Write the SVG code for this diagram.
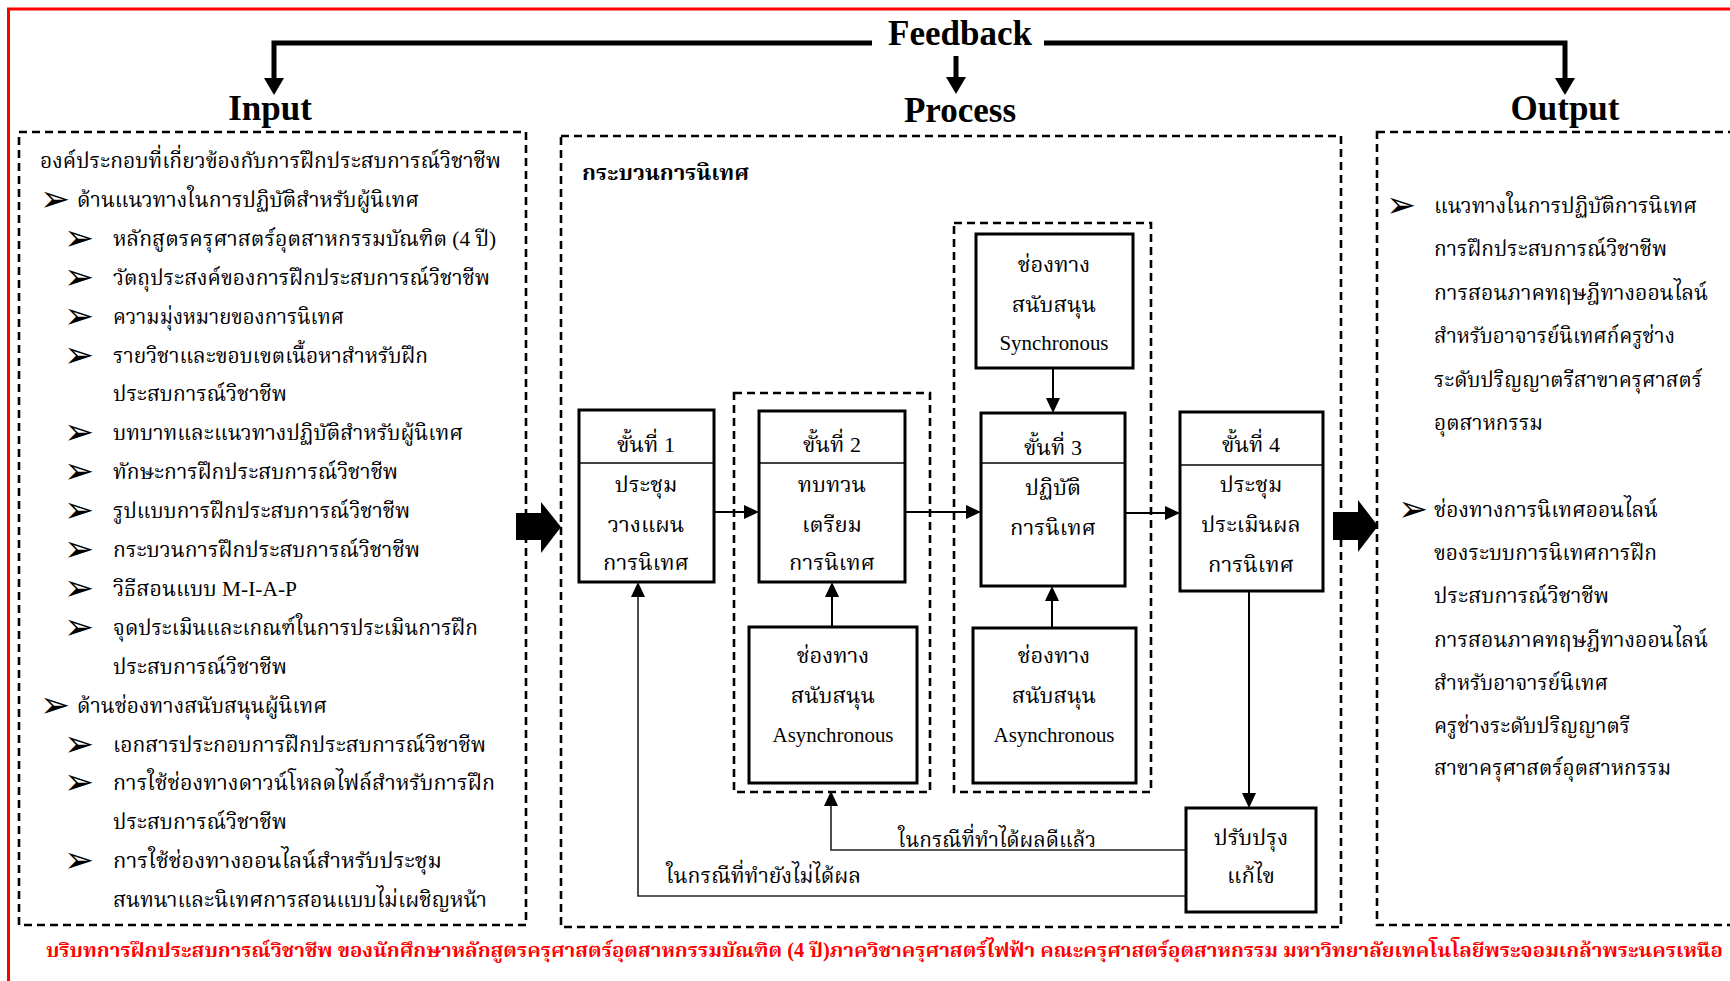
<svg xmlns="http://www.w3.org/2000/svg" width="1730" height="981" viewBox="0 0 1730 981">
<style>
.th{font-family:"Liberation Serif","Noto Serif Thai","Noto Sans Thai",serif;font-size:22px;fill:#000}
.c{text-anchor:middle}
.hd{font-family:"Liberation Serif",serif;font-size:35px;font-weight:bold;fill:#000;text-anchor:middle}
.en{font-family:"Liberation Serif",serif;font-size:20px;fill:#000;text-anchor:middle}
.bl{font-family:"DejaVu Sans",sans-serif;font-size:36px;fill:#000}
.box{fill:#fff;stroke:#000;stroke-width:3}
.div{stroke:#000;stroke-width:1.5}
.dash{fill:none;stroke:#000;stroke-width:2.6;stroke-dasharray:8 5}
.ln{fill:none;stroke:#000;stroke-width:2}
.lp{fill:none;stroke:#222;stroke-width:1.6}
.fb{fill:none;stroke:#000;stroke-width:5}
.foot{font-family:"Liberation Serif","Noto Serif Thai","Noto Sans Thai",serif;font-size:20px;font-weight:bold;fill:#ff0000}
</style>
<defs>
<marker id="ah" markerUnits="userSpaceOnUse" markerWidth="15" markerHeight="14" refX="0" refY="7" orient="auto" overflow="visible">
<path d="M0,0 L15,7 L0,14 Z" fill="#000"/>
</marker>
<marker id="ahb" markerUnits="userSpaceOnUse" markerWidth="17" markerHeight="20" refX="0" refY="10" orient="auto" overflow="visible">
<path d="M0,0 L17,10 L0,20 Z" fill="#000"/>
</marker>
</defs>
<rect width="1730" height="981" fill="#fff"/>
<rect x="8.5" y="9" width="1800" height="1100" fill="none" stroke="#ff0000" stroke-width="3"/>

<g id="connectors">
<path class="fb" d="M872,43 H274 V78" marker-end="url(#ahb)"/>
<path class="fb" d="M1044,43 H1565 V78" marker-end="url(#ahb)"/>
<path class="fb" d="M956,56 V77" marker-end="url(#ahb)"/>
<polygon points="516,513 541,513 541,502 561,527 541,553 541,540 516,540" fill="#000"/>
<polygon points="1333,512 1358,512 1358,500 1378,526 1358,552 1358,540 1333,540" fill="#000"/>
<path class="ln" d="M714,512 H744" marker-end="url(#ah)"/>
<path class="ln" d="M905,512 H966" marker-end="url(#ah)"/>
<path class="ln" d="M1125,513 H1165" marker-end="url(#ah)"/>
<path class="ln" d="M1053,368 V398" marker-end="url(#ah)"/>
<path class="ln" d="M832,627 V597" marker-end="url(#ah)"/>
<path class="ln" d="M1052,628 V601" marker-end="url(#ah)"/>
<path class="ln" d="M1249,591 V793" marker-end="url(#ah)"/>
<path class="lp" d="M1186,850 H831 V806" marker-end="url(#ah)"/>
<path class="lp" d="M1186,896 H638 V597" marker-end="url(#ah)"/>
<text class="th" x="898" y="847" textLength="198" lengthAdjust="spacingAndGlyphs">ในกรณีที่ทำได้ผลดีแล้ว</text>
<text class="th" x="666" y="883" textLength="195" lengthAdjust="spacingAndGlyphs">ในกรณีที่ทำยังไม่ได้ผล</text>
</g>

<g id="feedback">
<text class="hd" x="960" y="45" textLength="144" lengthAdjust="spacingAndGlyphs">Feedback</text>
</g>

<g id="input">
<text class="hd" x="270" y="120">Input</text>
<rect class="dash" x="19" y="132" width="507" height="793"/>
<text class="th" x="40" y="168" textLength="461" lengthAdjust="spacingAndGlyphs">องค์ประกอบที่เกี่ยวข้องกับการฝึกประสบการณ์วิชาชีพ</text>
<text class="bl" x="40" y="211">➢</text>
<text class="th" x="77" y="206.9" textLength="342" lengthAdjust="spacingAndGlyphs">ด้านแนวทางในการปฏิบัติสำหรับผู้นิเทศ</text>
<text class="bl" x="64" y="250">➢</text>
<text class="th" x="113" y="245.8" textLength="383" lengthAdjust="spacingAndGlyphs">หลักสูตรครุศาสตร์อุตสาหกรรมบัณฑิต (4 ปี)</text>
<text class="bl" x="64" y="289">➢</text>
<text class="th" x="113" y="284.7" textLength="377" lengthAdjust="spacingAndGlyphs">วัตถุประสงค์ของการฝึกประสบการณ์วิชาชีพ</text>
<text class="bl" x="64" y="328">➢</text>
<text class="th" x="113" y="323.6" textLength="231" lengthAdjust="spacingAndGlyphs">ความมุ่งหมายของการนิเทศ</text>
<text class="bl" x="64" y="366.5">➢</text>
<text class="th" x="113" y="362.5" textLength="315" lengthAdjust="spacingAndGlyphs">รายวิชาและขอบเขตเนื้อหาสำหรับฝึก</text>
<text class="th" x="113" y="401.4" textLength="174" lengthAdjust="spacingAndGlyphs">ประสบการณ์วิชาชีพ</text>
<text class="bl" x="64" y="444.3">➢</text>
<text class="th" x="113" y="440.3" textLength="350" lengthAdjust="spacingAndGlyphs">บทบาทและแนวทางปฏิบัติสำหรับผู้นิเทศ</text>
<text class="bl" x="64" y="483.2">➢</text>
<text class="th" x="113" y="479.2" textLength="285" lengthAdjust="spacingAndGlyphs">ทักษะการฝึกประสบการณ์วิชาชีพ</text>
<text class="bl" x="64" y="522.1">➢</text>
<text class="th" x="113" y="518.1" textLength="297" lengthAdjust="spacingAndGlyphs">รูปแบบการฝึกประสบการณ์วิชาชีพ</text>
<text class="bl" x="64" y="561">➢</text>
<text class="th" x="113" y="557" textLength="307" lengthAdjust="spacingAndGlyphs">กระบวนการฝึกประสบการณ์วิชาชีพ</text>
<text class="bl" x="64" y="599.9">➢</text>
<text class="th" x="113" y="595.9" textLength="184" lengthAdjust="spacingAndGlyphs">วิธีสอนแบบ M-I-A-P</text>
<text class="bl" x="64" y="638.8">➢</text>
<text class="th" x="113" y="634.8" textLength="365" lengthAdjust="spacingAndGlyphs">จุดประเมินและเกณฑ์ในการประเมินการฝึก</text>
<text class="th" x="113" y="673.7" textLength="174" lengthAdjust="spacingAndGlyphs">ประสบการณ์วิชาชีพ</text>
<text class="bl" x="40" y="716.6">➢</text>
<text class="th" x="77" y="712.6" textLength="250" lengthAdjust="spacingAndGlyphs">ด้านช่องทางสนับสนุนผู้นิเทศ</text>
<text class="bl" x="64" y="755.5">➢</text>
<text class="th" x="113" y="751.5" textLength="373" lengthAdjust="spacingAndGlyphs">เอกสารประกอบการฝึกประสบการณ์วิชาชีพ</text>
<text class="bl" x="64" y="794.4">➢</text>
<text class="th" x="113" y="790.4" textLength="382" lengthAdjust="spacingAndGlyphs">การใช้ช่องทางดาวน์โหลดไฟล์สำหรับการฝึก</text>
<text class="th" x="113" y="829.3" textLength="174" lengthAdjust="spacingAndGlyphs">ประสบการณ์วิชาชีพ</text>
<text class="bl" x="64" y="872.2">➢</text>
<text class="th" x="113" y="868.2" textLength="329" lengthAdjust="spacingAndGlyphs">การใช้ช่องทางออนไลน์สำหรับประชุม</text>
<text class="th" x="113" y="907.1" textLength="374" lengthAdjust="spacingAndGlyphs">สนทนาและนิเทศการสอนแบบไม่เผชิญหน้า</text>
</g>

<g id="process">
<text class="hd" x="960" y="122">Process</text>
<rect class="dash" x="561" y="136" width="780" height="791"/>
<text class="th" x="582" y="180" font-weight="bold" textLength="167" lengthAdjust="spacingAndGlyphs">กระบวนการนิเทศ</text>
</g>

<g id="group-step2">
<rect class="dash" x="734" y="393" width="196" height="399"/>
</g>
<g id="group-step3">
<rect class="dash" x="954" y="223" width="197" height="569"/>
</g>

<g id="step1">
<rect class="box" x="579" y="410" width="135" height="172"/>
<line class="div" x1="579" y1="463" x2="714" y2="463"/>
<text class="th c" x="646" y="452">ขั้นที่ 1</text>
<text class="th c" x="646" y="492">ประชุม</text>
<text class="th c" x="646" y="532">วางแผน</text>
<text class="th c" x="646" y="570">การนิเทศ</text>
</g>
<g id="step2">
<rect class="box" x="759" y="411" width="146" height="171"/>
<line class="div" x1="759" y1="463" x2="905" y2="463"/>
<text class="th c" x="832" y="452">ขั้นที่ 2</text>
<text class="th c" x="832" y="492">ทบทวน</text>
<text class="th c" x="832" y="532">เตรียม</text>
<text class="th c" x="832" y="570">การนิเทศ</text>
</g>
<g id="step3">
<rect class="box" x="981" y="413" width="144" height="173"/>
<line class="div" x1="981" y1="463" x2="1125" y2="463"/>
<text class="th c" x="1053" y="455">ขั้นที่ 3</text>
<text class="th c" x="1053" y="495">ปฏิบัติ</text>
<text class="th c" x="1053" y="535">การนิเทศ</text>
</g>
<g id="step4">
<rect class="box" x="1180" y="412" width="143" height="179"/>
<line class="div" x1="1180" y1="465" x2="1323" y2="465"/>
<text class="th c" x="1251" y="452">ขั้นที่ 4</text>
<text class="th c" x="1251" y="492">ประชุม</text>
<text class="th c" x="1251" y="532">ประเมินผล</text>
<text class="th c" x="1251" y="572">การนิเทศ</text>
</g>
<g id="sync">
<rect class="box" x="976" y="234" width="157" height="134"/>
<text class="th c" x="1054" y="272">ช่องทาง</text>
<text class="th c" x="1054" y="312">สนับสนุน</text>
<text class="en" x="1054" y="350" textLength="109" lengthAdjust="spacingAndGlyphs">Synchronous</text>
</g>
<g id="async2">
<rect class="box" x="749" y="627" width="168" height="156"/>
<text class="th c" x="833" y="663">ช่องทาง</text>
<text class="th c" x="833" y="703">สนับสนุน</text>
<text class="en" x="833" y="742" textLength="121" lengthAdjust="spacingAndGlyphs">Asynchronous</text>
</g>
<g id="async3">
<rect class="box" x="973" y="628" width="163" height="155"/>
<text class="th c" x="1054" y="663">ช่องทาง</text>
<text class="th c" x="1054" y="703">สนับสนุน</text>
<text class="en" x="1054" y="742" textLength="121" lengthAdjust="spacingAndGlyphs">Asynchronous</text>
</g>
<g id="revise">
<rect class="box" x="1186" y="808" width="130" height="104"/>
<text class="th c" x="1251" y="845">ปรับปรุง</text>
<text class="th c" x="1251" y="883">แก้ไข</text>
</g>

<g id="output">
<text class="hd" x="1565" y="120">Output</text>
<rect class="dash" x="1377" y="132" width="400" height="793"/>
<text class="bl" x="1386" y="217">➢</text>
<text class="th" x="1434" y="213" textLength="263" lengthAdjust="spacingAndGlyphs">แนวทางในการปฏิบัติการนิเทศ</text>
<text class="th" x="1434" y="256" textLength="233" lengthAdjust="spacingAndGlyphs">การฝึกประสบการณ์วิชาชีพ</text>
<text class="th" x="1434" y="300" textLength="274" lengthAdjust="spacingAndGlyphs">การสอนภาคทฤษฎีทางออนไลน์</text>
<text class="th" x="1434" y="343" textLength="241" lengthAdjust="spacingAndGlyphs">สำหรับอาจารย์นิเทศก์ครูช่าง</text>
<text class="th" x="1434" y="387" textLength="268" lengthAdjust="spacingAndGlyphs">ระดับปริญญาตรีสาขาครุศาสตร์</text>
<text class="th" x="1434" y="430" textLength="109" lengthAdjust="spacingAndGlyphs">อุตสาหกรรม</text>
<text class="bl" x="1398" y="521">➢</text>
<text class="th" x="1434" y="517" textLength="224" lengthAdjust="spacingAndGlyphs">ช่องทางการนิเทศออนไลน์</text>
<text class="th" x="1434" y="560" textLength="223" lengthAdjust="spacingAndGlyphs">ของระบบการนิเทศการฝึก</text>
<text class="th" x="1434" y="603" textLength="175" lengthAdjust="spacingAndGlyphs">ประสบการณ์วิชาชีพ</text>
<text class="th" x="1434" y="647" textLength="274" lengthAdjust="spacingAndGlyphs">การสอนภาคทฤษฎีทางออนไลน์</text>
<text class="th" x="1434" y="690" textLength="174" lengthAdjust="spacingAndGlyphs">สำหรับอาจารย์นิเทศ</text>
<text class="th" x="1434" y="733" textLength="196" lengthAdjust="spacingAndGlyphs">ครูช่างระดับปริญญาตรี</text>
<text class="th" x="1434" y="775" textLength="237" lengthAdjust="spacingAndGlyphs">สาขาครุศาสตร์อุตสาหกรรม</text>
</g>

<g id="footer">
<text class="foot" x="46" y="957" textLength="1677" lengthAdjust="spacingAndGlyphs">บริบทการฝึกประสบการณ์วิชาชีพ ของนักศึกษาหลักสูตรครุศาสตร์อุตสาหกรรมบัณฑิต (4 ปี)ภาควิชาครุศาสตร์ไฟฟ้า คณะครุศาสตร์อุตสาหกรรม มหาวิทยาลัยเทคโนโลยีพระจอมเกล้าพระนครเหนือ</text>
</g>
</svg>
